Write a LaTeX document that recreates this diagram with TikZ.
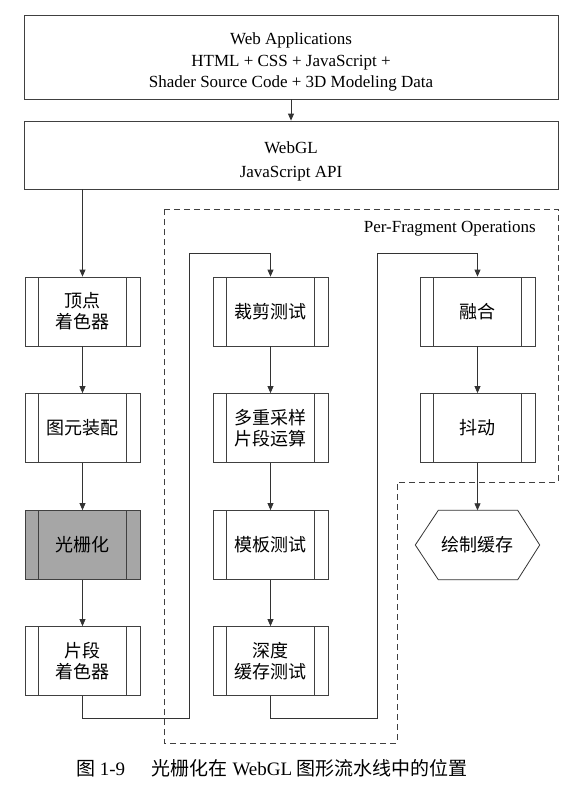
\documentclass[tikz,border=0pt]{standalone}
\usepackage{fontspec}
\setmainfont{Liberation Serif}
\newfontfamily\cjk{Noto Sans CJK SC}
\usetikzlibrary{arrows.meta}

\tikzset{
  wire/.style={draw=black!80, line width=0.8pt},
  flow/.style={wire, -{Triangle[length=7pt,width=6pt]}},
  appbox/.style={draw=black!75, line width=0.8pt, minimum width=534pt, inner sep=0pt},
  apptext/.style={align=center, inner sep=0pt, font=\fontsize{17}{21.5}\selectfont},
  procbox/.style={draw=black!75, line width=0.8pt, minimum width=115pt, minimum height=69pt,
    inner sep=0pt, align=center, font=\cjk\fontsize{18}{21}\selectfont,
    path picture={\draw[black!75, line width=0.8pt]
      ([xshift=13.5pt]path picture bounding box.north west) -- ([xshift=13.5pt]path picture bounding box.south west)
      ([xshift=-13.5pt]path picture bounding box.north east) -- ([xshift=-13.5pt]path picture bounding box.south east);}},
  hexbox/.style={minimum width=124pt, minimum height=69pt, inner sep=0pt,
    font=\cjk\fontsize{18}{21}\selectfont},
  opregion/.style={draw=black!75, line width=0.8pt, dash pattern=on 6pt off 4pt},
}

\begin{document}
\begin{tikzpicture}[x=1pt, y=-1pt]
  \useasboundingbox (0,0) rectangle (570,792);

    % application and API layers
    \node[appbox, minimum height=84pt] (webapp) at (291,57) {};
    \node[apptext] (webapptext) at (291,62)
      {Web Applications\\ HTML + CSS + JavaScript +\\ Shader Source Code + 3D Modeling Data};
    \node[appbox, minimum height=68pt] (webgl) at (291,155) {};
    \node[apptext, font=\fontsize{17}{24}\selectfont] (webgltext) at (291,161) {WebGL\\ JavaScript API};
    \draw[flow] (webapp) -- (webgl);

    % per-fragment region
    \draw[opregion] (164,209) -- (558,209) -- (558,482) -- (397,482) -- (397,743) -- (164,743) -- cycle;
    \node[anchor=east, inner sep=0pt, font=\fontsize{17}{20}\selectfont] (optitle) at (536,229) {Per-Fragment Operations};

    % left column
    \node[procbox] (vshader) at (82.5,311.5) {顶点\\着色器};
    \node[procbox] (assembly) at (82.5,428) {图元装配};
    \node[procbox, fill=black!35] (raster) at (82.5,545) {光栅化};
    \node[procbox] (fshader) at (82.5,661) {片段\\着色器};

    % middle column
    \node[procbox] (scissor) at (270.5,311.5) {裁剪测试};
    \node[procbox] (multisample) at (270.5,428) {多重采样\\片段运算};
    \node[procbox] (stencil) at (270.5,545) {模板测试};
    \node[procbox] (depth) at (270.5,661) {深度\\缓存测试};

    % right column
    \node[procbox] (blend) at (477.5,311.5) {融合};
    \node[procbox] (dither) at (477.5,428) {抖动};
    \node[hexbox] (buffer) at (477.5,545) {绘制缓存};
    \draw[wire] (buffer.west) -- ([xshift=23pt]buffer.north west) -- ([xshift=-22pt]buffer.north east)
      -- (buffer.east) -- ([xshift=-22pt]buffer.south east) -- ([xshift=23pt]buffer.south west) -- cycle;

    \coordinate (turnA1) at (189,718);
    \coordinate (turnA2) at (189,253);
    \coordinate (turnB1) at (377,718);
    \coordinate (turnB2) at (377,253);

    \draw[flow] (vshader.north |- webgl.south) -- (vshader.north);
    \draw[flow] (vshader) -- (assembly);
    \draw[flow] (assembly) -- (raster);
    \draw[flow] (raster) -- (fshader);
    \draw[flow] (fshader.south) |- (turnA1) -- (turnA2) -| (scissor.north);
    \draw[flow] (scissor) -- (multisample);
    \draw[flow] (multisample) -- (stencil);
    \draw[flow] (stencil) -- (depth);
    \draw[flow] (depth.south) |- (turnB1) -- (turnB2) -| (blend.north);
    \draw[flow] (blend) -- (dither);
    \draw[flow] (dither) -- (buffer.north);

    % caption
    \node[font=\fontsize{19}{22}\selectfont] (caption) at (272,768)
      {{\cjk 图} 1-9\hspace{1.4em}{\cjk 光栅化在} WebGL {\cjk 图形流水线中的位置}};

  \end{tikzpicture}
\end{document}
